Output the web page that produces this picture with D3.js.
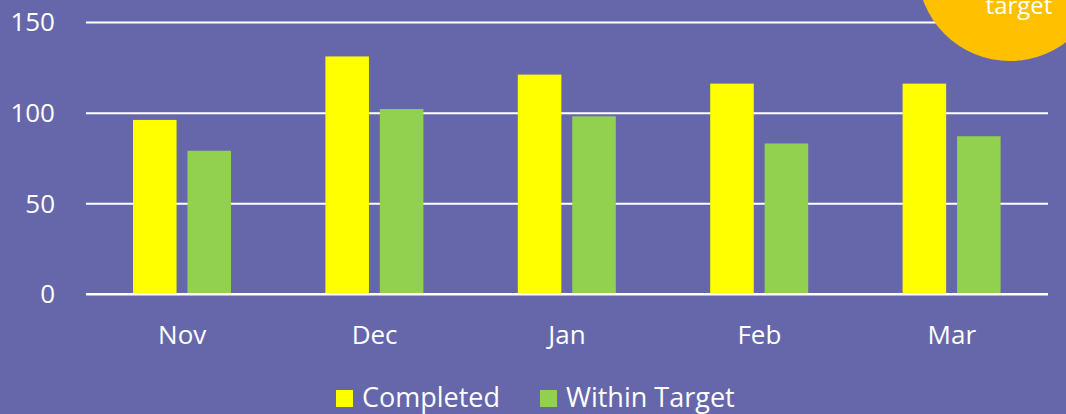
<!DOCTYPE html>
<html>
<head>
<meta charset="utf-8">
<script src="https://cdn.jsdelivr.net/npm/d3@7"></script>
<style>
  body { margin: 0; background: #6667ab; }
  svg { display: block; font-family: "Open Sans", "Noto Sans", sans-serif; }
</style>
</head>
<body>
<div class="plot"></div>
<script>
// DATA
var months = ["Nov", "Dec", "Jan", "Feb", "Mar"];
var completed = [96, 131, 121, 116, 116];
var withinTarget = [79, 102, 98, 83, 87];
var seriesNames = ["Completed", "Within Target"];
var yTicks = [0, 50, 100, 150];
var colors = ["#ffff00", "#92d050"];

var w = 1066, h = 414;
var plotLeft = 86, plotRight = 1048, plotTop = 22, plotBottom = 294;

var svg = d3.select(".plot").append("svg").attr("width", w).attr("height", h);

svg.append("rect").attr("width", w).attr("height", h).attr("fill", "#6667ab");

// SCALES
var xScale = d3.scaleBand().domain(months).range([plotLeft, plotRight]);
var yScale = d3.scaleLinear().domain([0, 150]).range([plotBottom, plotTop]);
var inner = d3.scaleBand().domain(seriesNames).range([47, 145]).paddingInner(0.2);

// gridlines
svg.append("g")
  .attr("transform", "translate(" + plotLeft + ",0)")
  .call(d3.axisLeft(yScale).tickValues(yTicks).tickSize(plotLeft - plotRight).tickFormat(""))
  .call(function (g) {
    g.select(".domain").remove();
    g.selectAll("line").attr("stroke", "#ffffff").attr("stroke-width", 2);
  });

// y labels
svg.append("g")
  .selectAll("text")
  .data(yTicks)
  .enter()
  .append("text")
  .attr("x", 55)
  .attr("y", function (d) { return yScale(d); })
  .attr("dy", "0.36em")
  .attr("text-anchor", "end")
  .attr("fill", "#ffffff")
  .attr("font-size", "26px")
  .text(function (d) { return d; });

// bars
var rows = months.map(function (m, i) {
  return { month: m, values: [completed[i], withinTarget[i]] };
});

var groups = svg.selectAll(".month")
  .data(rows)
  .enter()
  .append("g")
  .attr("class", "month")
  .attr("transform", function (d) { return "translate(" + xScale(d.month) + ",0)"; });

groups.selectAll("rect")
  .data(function (d) { return d.values; })
  .enter()
  .append("rect")
  .attr("x", function (d, i) { return inner(seriesNames[i]); })
  .attr("width", inner.bandwidth())
  .attr("y", function (d) { return yScale(d); })
  .attr("height", function (d) { return yScale(0) - yScale(d); })
  .attr("fill", function (d, i) { return colors[i]; });

// redraw zero line over bars
svg.append("line")
  .attr("x1", plotLeft).attr("x2", plotRight)
  .attr("y1", yScale(0)).attr("y2", yScale(0))
  .attr("stroke", "#ffffff").attr("stroke-width", 2);

// x labels
svg.append("g")
  .selectAll("text")
  .data(months)
  .enter()
  .append("text")
  .attr("x", function (d) { return xScale(d) + xScale.bandwidth() / 2; })
  .attr("y", 344)
  .attr("text-anchor", "middle")
  .attr("fill", "#ffffff")
  .attr("font-size", "26px")
  .text(function (d) { return d; });

// legend
var legendX = [336, 540];
var legend = svg.append("g");
seriesNames.forEach(function (name, i) {
  legend.append("rect")
    .attr("x", legendX[i]).attr("y", 390)
    .attr("width", 17).attr("height", 17)
    .attr("fill", colors[i]);
  legend.append("text")
    .attr("x", legendX[i] + 26).attr("y", 407)
    .attr("fill", "#ffffff")
    .attr("font-size", "27px")
    .text(name);
});

// badge in corner
svg.append("circle")
  .attr("cx", 1010).attr("cy", -31.5).attr("r", 92.5)
  .attr("fill", "#ffc000");
svg.append("text")
  .attr("x", 1019).attr("y", 14)
  .attr("text-anchor", "middle")
  .attr("fill", "#ffffff")
  .attr("font-size", "24px")
  .text("target");
</script>
</body>
</html>
